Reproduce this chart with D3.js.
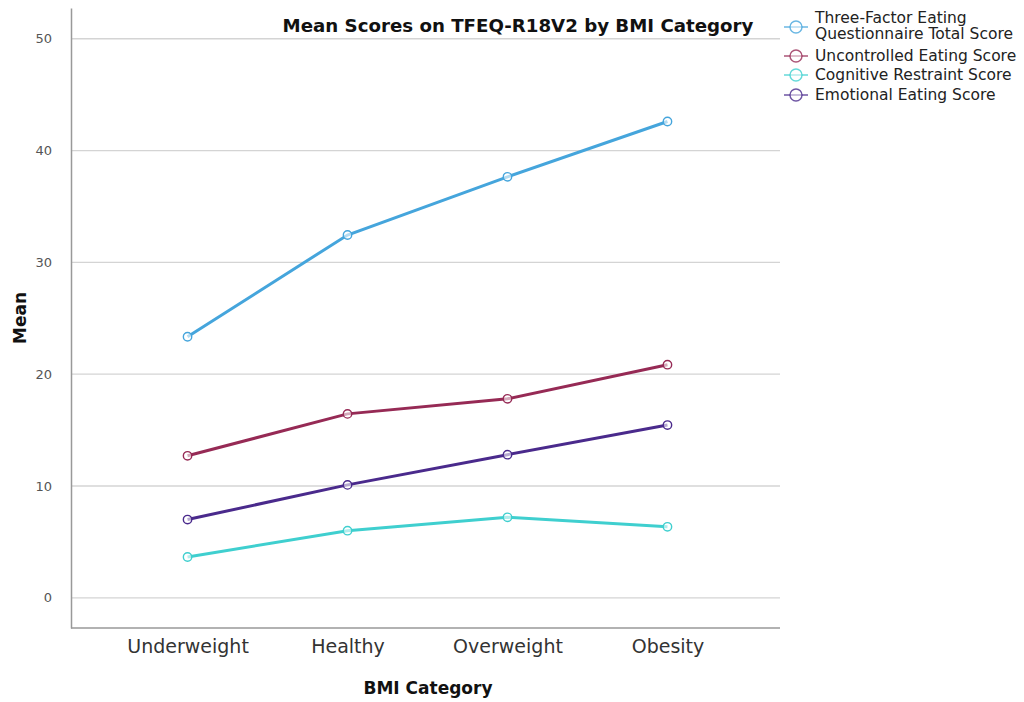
<!DOCTYPE html>
<html>
<head>
<meta charset="utf-8">
<script src="https://cdn.jsdelivr.net/npm/d3@7"></script>
<style>
  body { margin: 0; background: #fff; }
  svg { display: block; font-family: "DejaVu Sans", Verdana, sans-serif; }
</style>
</head>
<body>
<svg id="chart" width="1024" height="702"></svg>
<script>
const categories = ["Underweight", "Healthy", "Overweight", "Obesity"];
const seriesNames = [
  "Three-Factor Eating Questionnaire Total Score",
  "Uncontrolled Eating Score",
  "Cognitive Restraint Score",
  "Emotional Eating Score"
];
const totalScore = [23.35, 32.45, 37.65, 42.6];
const uncontrolledScore = [12.7, 16.45, 17.8, 20.85];
const cognitiveScore = [3.65, 6.0, 7.2, 6.35];
const emotionalScore = [7.0, 10.1, 12.8, 15.45];
const yTicks = [0, 10, 20, 30, 40, 50];
const colors = ["#45a5dc", "#962a55", "#3fcfcf", "#4a2a8c"];

const series = [totalScore, uncontrolledScore, cognitiveScore, emotionalScore].map((v, i) => ({
  name: seriesNames[i], values: v, color: colors[i]
}));

const svg = d3.select("#chart");
const plotLeft = 71, plotRight = 780, plotTop = 8, plotBottom = 628;

const x = d3.scalePoint().domain(categories).range([plotLeft + 2, plotRight + 2]).padding(0.716);
const y = d3.scaleLinear().domain([-2.7, 52.75]).range([plotBottom, plotTop]);

// gridlines
svg.append("g").selectAll("line").data(yTicks).join("line")
  .attr("x1", plotLeft).attr("x2", plotRight)
  .attr("y1", d => y(d)).attr("y2", d => y(d))
  .attr("stroke", "#d4d4d4").attr("stroke-width", 1.3);

// y axis
const yAxis = svg.append("g").attr("transform", `translate(${plotLeft},0)`)
  .call(d3.axisLeft(y).tickValues(yTicks).tickSize(0).tickPadding(19));
yAxis.select(".domain").attr("stroke", "#999").attr("stroke-width", 1.5);
yAxis.selectAll("text").attr("fill", "#555").attr("font-size", 13).attr("font-family", "DejaVu Sans");

// x axis
const xAxis = svg.append("g").attr("transform", `translate(0,${plotBottom})`)
  .call(d3.axisBottom(x).tickSize(0).tickPadding(12));
xAxis.select(".domain").attr("stroke", "#999").attr("stroke-width", 1.5)
  .attr("d", `M${plotLeft},0H${plotRight}`);
xAxis.selectAll("text").attr("fill", "#333").attr("font-size", 19).attr("font-family", "DejaVu Sans");

// lines
const line = d3.line().x((d, i) => x(categories[i])).y(d => y(d));
series.forEach(s => {
  svg.append("path").datum(s.values)
    .attr("d", line).attr("fill", "none")
    .attr("stroke", s.color).attr("stroke-width", 3);
  svg.append("g").selectAll("circle").data(s.values).join("circle")
    .attr("cx", (d, i) => x(categories[i])).attr("cy", d => y(d)).attr("r", 4.2)
    .attr("fill", "#fff").attr("fill-opacity", 0.6)
    .attr("stroke", s.color).attr("stroke-width", 1.4);
});

// title
svg.append("text").attr("x", 518).attr("y", 32).attr("text-anchor", "middle")
  .attr("font-weight", "bold").attr("font-size", 18.2).attr("fill", "#111")
  .text("Mean Scores on TFEQ-R18V2 by BMI Category");

// axis titles
svg.append("text").attr("transform", "translate(26,318) rotate(-90)")
  .attr("text-anchor", "middle").attr("font-weight", "bold").attr("font-size", 17).attr("fill", "#111")
  .text("Mean");
svg.append("text").attr("x", 428).attr("y", 694).attr("text-anchor", "middle")
  .attr("font-weight", "bold").attr("font-size", 17).attr("fill", "#111")
  .text("BMI Category");

// legend
const legendRows = [
  { lines: ["Three-Factor Eating", "Questionnaire Total Score"], y: 18 },
  { lines: ["Uncontrolled Eating Score"], y: 56 },
  { lines: ["Cognitive Restraint Score"], y: 75 },
  { lines: ["Emotional Eating Score"], y: 95 }
];
legendRows.forEach((r, i) => {
  const my = r.lines.length === 2 ? r.y + 9 : r.y;
  svg.append("line").attr("x1", 784).attr("x2", 808).attr("y1", my).attr("y2", my)
    .attr("stroke", colors[i]).attr("stroke-width", 1.5).attr("stroke-opacity", 0.8);
  svg.append("circle").attr("cx", 796).attr("cy", my).attr("r", 6)
    .attr("fill", "#fff").attr("fill-opacity", 0.5)
    .attr("stroke", colors[i]).attr("stroke-width", 1.4).attr("stroke-opacity", 0.8);
  r.lines.forEach((t, j) => {
    svg.append("text").attr("x", 815).attr("y", r.y + j * 16 + 5)
      .attr("font-size", 15.5).attr("fill", "#222").text(t);
  });
});
</script>
</body>
</html>
